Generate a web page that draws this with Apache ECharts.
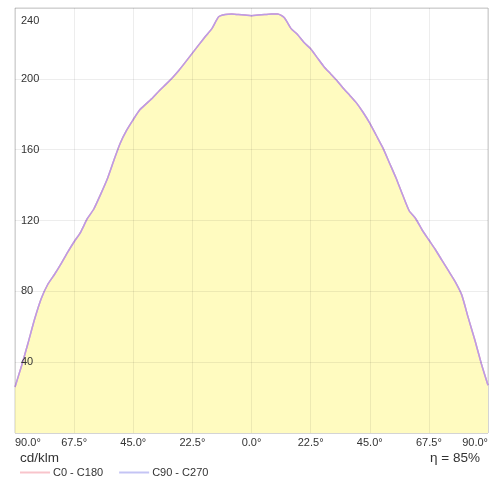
<!DOCTYPE html>
<html>
<head>
<meta charset="utf-8">
<script src="https://cdn.jsdelivr.net/npm/echarts@6/dist/echarts.min.js"></script>
<style>
html,body{margin:0;padding:0;background:#fff;}
#chart{width:491px;height:479px;}
</style>
</head>
<body>
<div id="chart"></div>
<script>
var angles = [-90,-87.5,-85,-82.5,-80,-77.5,-75,-72.5,-70,-67.5,-65,-62.5,-60,-57.5,-55,-52.5,-50,-47.5,-45,-42.5,-40,-37.5,-35,-32.5,-30,-27.5,-25,-22.5,-20,-17.5,-15,-12.5,-10,-7.5,-5,-2.5,0,2.5,5,7.5,10,12.5,15,17.5,20,22.5,25,27.5,30,32.5,35,37.5,40,42.5,45,47.5,50,52.5,55,57.5,60,62.5,65,67.5,70,72.5,75,77.5,80,82.5,85,87.5,90];
var c0c180 = [26,38,51,64.5,76,84,89.5,95.5,102,108,113.5,121,126.5,134.5,143,153.5,163.5,171,177,182.5,186,189.5,193.4,197,200.8,205,209.7,214.5,219.3,224,228.5,235,236.3,236.6,236.3,236,235.6,236,236.3,236.6,236.6,234.5,228.5,225,220.5,217,212,207,203,199,194.5,190.5,186.3,181,175,168,161,152.5,144,134.5,125.5,121,114.5,109,103.5,97.5,91.5,85.5,78,65,52.5,39,27];
var c90c270 = [26,38,51,64.5,76,84,89.5,95.5,102,108,113.5,121,126.5,134.5,143,153.5,163.5,171,177,182.5,186,189.5,193.4,197,200.8,205,209.7,214.5,219.3,224,228.5,235,236.3,236.6,236.3,236,235.6,236,236.3,236.6,236.6,234.5,228.5,225,220.5,217,212,207,203,199,194.5,190.5,186.3,181,175,168,161,152.5,144,134.5,125.5,121,114.5,109,103.5,97.5,91.5,85.5,78,65,52.5,39,27];
var seriesNames = ['C0 - C180', 'C90 - C270'];
var unitLabel = 'cd/klm';
var efficiencyLabel = 'η = 85%';

function pairs(a, v) { return a.map(function (x, i) { return [x, v[i]]; }); }

var font = 'Liberation Sans, Arial, sans-serif';
var chart = echarts.init(document.getElementById('chart'));
chart.setOption({
  animation: false,
  backgroundColor: '#ffffff',
  textStyle: { fontFamily: font },
  grid: { left: 15, right: 3, top: 8, bottom: 46, show: true, borderColor: '#cccccc', borderWidth: 1, containLabel: false },
  xAxis: {
    type: 'value', min: -90, max: 90, interval: 22.5, z: 5,
    axisLine: { show: false }, axisTick: { show: false },
    splitLine: { show: true, lineStyle: { color: 'rgba(0,0,0,0.07)', width: 1 } },
    axisLabel: {
      color: '#333', fontSize: 11, margin: 4,
      alignMinLabel: 'left', alignMaxLabel: 'right',
      formatter: function (v) { return Math.abs(v).toFixed(1) + '°'; }
    }
  },
  yAxis: {
    type: 'value', min: 0, max: 240, interval: 40, z: 5,
    axisLine: { show: false }, axisTick: { show: false },
    splitLine: { show: true, lineStyle: { color: 'rgba(0,0,0,0.07)', width: 1 } },
    axisLabel: {
      inside: true, margin: 6, color: '#333', fontSize: 11,
      formatter: function (v) { return v === 0 ? '' : (v === 240 ? '{t|240}' : String(v)); },
      rich: { t: { color: '#333', fontSize: 11, padding: [26, 0, 0, 0] } }
    }
  },
  legend: {
    left: 20, top: 467, padding: 0, icon: 'rect', itemWidth: 30, itemHeight: 2, itemGap: 16,
    textStyle: { color: '#333', fontSize: 11, padding: [0, 0, 0, -2] },
    data: [
      { name: seriesNames[0], itemStyle: { color: '#f8c4cb' } },
      { name: seriesNames[1], itemStyle: { color: '#c4c4f4' } }
    ]
  },
  series: [
    {
      name: seriesNames[0], type: 'line', data: pairs(angles, c0c180),
      showSymbol: false, smooth: 0.2, color: '#f0a0b0',
      lineStyle: { color: '#f0a0b0', width: 1.5 }
    },
    {
      name: seriesNames[1], type: 'line', data: pairs(angles, c90c270),
      showSymbol: false, smooth: 0.2, color: '#bb9ce6',
      lineStyle: { color: '#bb9ce6', width: 1.5 },
      areaStyle: { color: '#fffbc0', opacity: 1 }
    }
  ],
  graphic: [
    { type: 'text', left: 20, top: 451, style: { text: unitLabel, fontSize: 13.5, fill: '#333', fontFamily: font } },
    { type: 'text', right: 11, top: 451, style: { text: efficiencyLabel, fontSize: 13.5, fill: '#333', fontFamily: font } }
  ]
});
</script>
</body>
</html>
